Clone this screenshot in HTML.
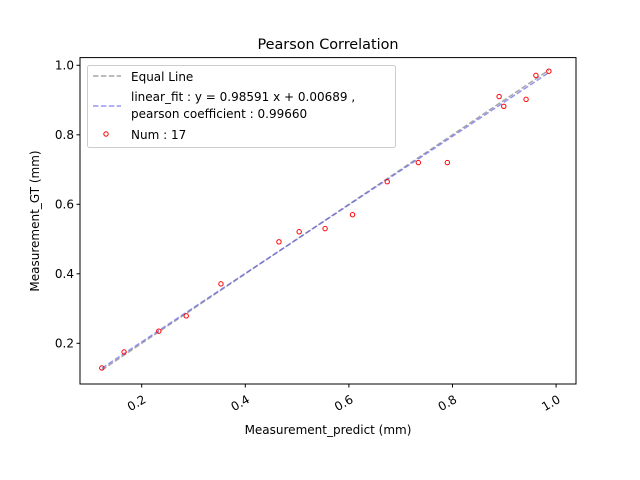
<!DOCTYPE html>
<html><head><meta charset="utf-8"><style>
body{margin:0;background:#fff;}
svg{display:block;font-family:"DejaVu Sans","Liberation Sans",sans-serif;}
</style></head><body>
<svg id="chart" width="640" height="480">
<rect width="640" height="480" fill="#fff"/>
<text x="328" y="49" text-anchor="middle" font-size="14.4">Pearson Correlation</text>
<g id="plot"></g>
<text x="328" y="434" text-anchor="middle" font-size="12">Measurement_predict (mm)</text>
<text transform="translate(39,221) rotate(-90)" text-anchor="middle" font-size="12">Measurement_GT (mm)</text>
</svg>
<script>
const xs=[0.123,0.166,0.233,0.286,0.353,0.465,0.504,0.554,0.607,0.674,0.734,0.790,0.890,0.899,0.942,0.961,0.986];
const ys=[0.129,0.175,0.235,0.279,0.371,0.492,0.521,0.530,0.570,0.665,0.720,0.720,0.910,0.882,0.902,0.971,0.983];
const fitSlope=[0.98591];
const fitIntercept=[0.00689];
const xTicks=[0.2,0.4,0.6,0.8,1.0];
const yTicks=[0.2,0.4,0.6,0.8,1.0];
const L=80,R=576,T=57.6,B=384;
const X0=0.2,XP0=141.7,XS=518;
const Y0=0.2,YP0=343.3,YS=347.5;
const sx=v=>XP0+(v-X0)*XS;
const sy=v=>YP0-(v-Y0)*YS;
const NS='http://www.w3.org/2000/svg';
const g=document.getElementById('plot');
function mk(tag,attrs,parent){const e=document.createElementNS(NS,tag);for(const k in attrs)e.setAttribute(k,attrs[k]);(parent||g).appendChild(e);return e;}
const xmin=Math.min(...xs),xmax=Math.max(...xs);
let e=mk('line',{x1:sx(xmin),y1:sy(xmin),x2:sx(xmax),y2:sy(xmax),stroke:'#808080','stroke-opacity':0.7,'stroke-width':1.5,'stroke-dasharray':'5.5,2.4'});


const f=v=>fitSlope[0]*v+fitIntercept[0];
e=mk('line',{x1:sx(xmin),y1:sy(f(xmin)),x2:sx(xmax),y2:sy(f(xmax)),stroke:'#5050e8','stroke-opacity':0.6,'stroke-width':1.5,'stroke-dasharray':'5.5,2.4'});


xs.forEach((v,i)=>{
  const c=mk('circle',{cx:sx(v),cy:sy(ys[i]),r:2.2,fill:'none',stroke:'#ff0000','stroke-width':1});
  
  
});
e=mk('rect',{x:L,y:T,width:R-L,height:B-T,fill:'none',stroke:'#000','stroke-width':1});


xTicks.forEach(t=>{
  const x=sx(t);
  mk('line',{x1:x,y1:B,x2:x,y2:B+3.5,stroke:'#000'});
  const tx=mk('text',{x:x,y:B+8,'font-size':12,'text-anchor':'end',transform:`rotate(-30 ${x+3} ${B+8})`,dy:'0.8em'});
  tx.textContent=t.toFixed(1);
  
  
});
yTicks.forEach(t=>{
  const y=sy(t);
  mk('line',{x1:L,y1:y,x2:L-3.5,y2:y,stroke:'#000'});
  const tx=mk('text',{x:L-6,y:y+4.3,'font-size':12,'text-anchor':'end'});
  tx.textContent=t.toFixed(1);
  
  
});
const lg=mk('g',{});


mk('rect',{x:87.5,y:65.5,width:308,height:82,rx:2,fill:'#fff','fill-opacity':0.8,stroke:'#ccc'},lg);
mk('line',{x1:93,y1:76,x2:121,y2:76,stroke:'#808080','stroke-opacity':0.7,'stroke-width':1.5,'stroke-dasharray':'5.5,2.4'},lg);
mk('line',{x1:93,y1:106,x2:121,y2:106,stroke:'#5050e8','stroke-opacity':0.6,'stroke-width':1.5,'stroke-dasharray':'5.5,2.4'},lg);
mk('circle',{cx:106,cy:134,r:2.2,fill:'none',stroke:'#ff0000'},lg);
[['Equal Line',81],['linear_fit : y = 0.98591 x + 0.00689 ,',101],['pearson coefficient : 0.99660',118],['Num : 17',139]].forEach(([s,y])=>{
  const t=mk('text',{x:131,y:y,'font-size':12},lg);t.textContent=s;
  
  
});
</script>
</body></html>
